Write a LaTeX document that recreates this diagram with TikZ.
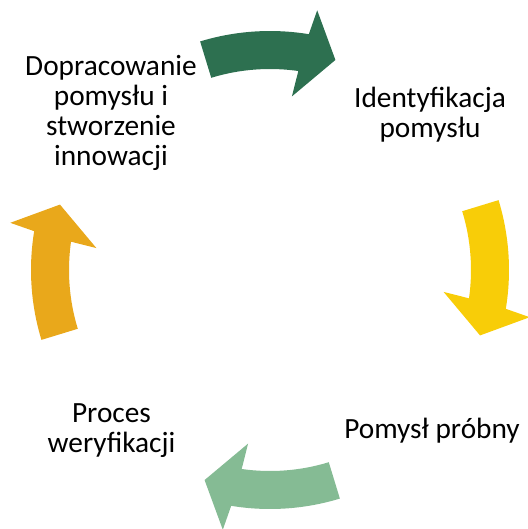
\documentclass[tikz,border=0pt]{standalone}
\usepackage{fontspec}
\setmainfont{Carlito}
\definecolor{arrowDark}{RGB}{45,112,80}
\definecolor{arrowYellow}{RGB}{248,205,8}
\definecolor{arrowLight}{RGB}{133,187,148}
\definecolor{arrowGold}{RGB}{233,168,27}
\begin{document}
\begin{tikzpicture}[x=0.75pt,y=0.75pt,yscale=-1,xscale=1,
  steplabel/.style={anchor=base,align=center,inner sep=0.75pt,font=\fontsize{22}{22.5}\selectfont}]
\useasboundingbox (0,0) rectangle (528,529);

%Shape: Circular Arrow (top)
\fill [arrowDark, shift={(270,270)}, rotate=-90] (-17:239) arc[start angle=-17, end angle=9.35, radius=239] -- (10.3:264) -- (17.3:220) -- (7.2:175) -- (8.1:201) arc[start angle=8.1, end angle=-17, radius=201] -- cycle ;
%Shape: Circular Arrow (right)
\fill [arrowYellow, shift={(270,270)}, rotate=0] (-17:239) arc[start angle=-17, end angle=9.35, radius=239] -- (10.3:264) -- (17.3:220) -- (7.2:175) -- (8.1:201) arc[start angle=8.1, end angle=-17, radius=201] -- cycle ;
%Shape: Circular Arrow (bottom)
\fill [arrowLight, shift={(270,270)}, rotate=90] (-17:239) arc[start angle=-17, end angle=9.35, radius=239] -- (10.3:264) -- (17.3:220) -- (7.2:175) -- (8.1:201) arc[start angle=8.1, end angle=-17, radius=201] -- cycle ;
%Shape: Circular Arrow (left)
\fill [arrowGold, shift={(270,270)}, rotate=180] (-17:239) arc[start angle=-17, end angle=9.35, radius=239] -- (10.3:264) -- (17.3:220) -- (7.2:175) -- (8.1:201) arc[start angle=8.1, end angle=-17, radius=201] -- cycle ;

% Text Node
\node [steplabel] (ident) at (430,137) {Identyfikacja\\pomysłu};
% Text Node
\node [steplabel] (probny) at (432,438) {Pomysł próbny};
% Text Node
\node [steplabel] (weryf) at (111.5,452) {Proces\\weryfikacji};
% Text Node
\node [steplabel] (doprac) at (111,165) {Dopracowanie\\pomysłu i\\stworzenie\\innowacji};

\end{tikzpicture}
\end{document}
